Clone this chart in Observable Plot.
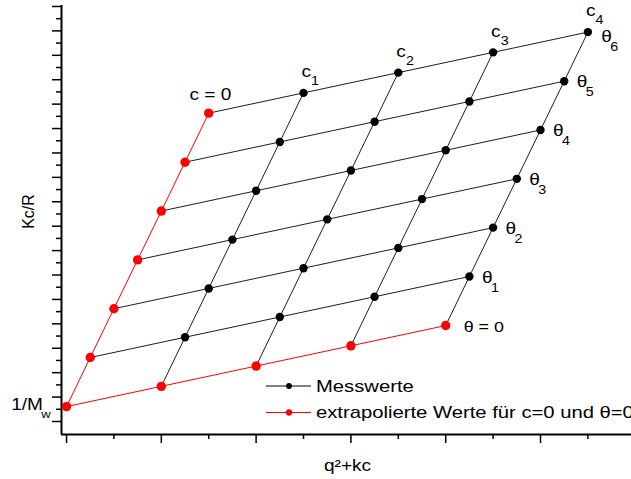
<!DOCTYPE html>
<html><head><meta charset="utf-8">
<script src="https://cdn.jsdelivr.net/npm/d3@7"></script>
<script src="https://cdn.jsdelivr.net/npm/@observablehq/plot@0.6"></script>
<style>html,body{margin:0;padding:0;background:#fff;} svg{display:block}</style>
</head><body><div id="chart"></div>
<script>
// ---- data ----
const cNames = ["0", "1", "2", "3", "4"];
const thetaNames = ["0", "1", "2", "3", "4", "5", "6"];
// x = q^2 + k c, one row per angle (theta 0..6), columns c = 0..4
const xValues = [
  [0.00, 1.00, 2.00, 3.00, 4.00],
  [0.25, 1.25, 2.25, 3.25, 4.25],
  [0.50, 1.50, 2.50, 3.50, 4.50],
  [0.75, 1.75, 2.75, 3.75, 4.75],
  [1.00, 2.00, 3.00, 4.00, 5.00],
  [1.25, 2.25, 3.25, 4.25, 5.25],
  [1.50, 2.50, 3.50, 4.50, 5.50]
];
// Kc/R
const yValues = [
  [0.61, 1.44, 2.27, 3.10, 3.93],
  [2.62, 3.45, 4.28, 5.11, 5.94],
  [4.62, 5.45, 6.28, 7.11, 7.94],
  [6.62, 7.45, 8.28, 9.11, 9.94],
  [8.62, 9.45, 10.28, 11.11, 11.94],
  [10.62, 11.45, 12.28, 13.11, 13.94],
  [12.63, 13.46, 14.29, 15.12, 15.95]
];
const xMajorTicks = [0, 1, 2, 3, 4, 5];
const xMinorTicks = [0.5, 1.5, 2.5, 3.5, 4.5, 5.5];
const yMajorTicks = [0, 1, 2, 3, 4, 5, 6, 7, 8, 9, 10, 11, 12, 13, 14, 15, 16, 17];
const yMinorTicks = [0.5, 1.5, 2.5, 3.5, 4.5, 5.5, 6.5, 7.5, 8.5, 9.5, 10.5, 11.5, 12.5, 13.5, 14.5, 15.5, 16.5];
const legendLabels = ["Messwerte", "extrapolierte Werte für c=0 und θ=0"];
const xAxisLabel = "q²+kc";
const yAxisLabel = "Kc/R";
const interceptLabel = "1/M";
const interceptSub = "w";
const cZeroLabel = "c = 0";
const thetaZeroLabel = "θ = 0";

// ---- layout ----
const W = 631, H = 479, ML = 61, MR = 0, MT = 5, MB = 45;
const X0 = -0.053, X1 = 5.96, Y0 = -0.533, Y1 = 17.04;
const invX = px => X0 + (px - ML) / (W - ML - MR) * (X1 - X0);
const invY = py => Y0 + (H - MB - py) / (H - MB - MT) * (Y1 - Y0);
const STRETCH = 1.19;
const FONT = "'Liberation Sans', Arial, Helvetica, sans-serif";
const RED = "#ff0000";
const LINE = "#1e1e1e";

const points = [];
thetaNames.forEach((t, i) => cNames.forEach((c, j) =>
  points.push({i, j, theta: t, c, x: xValues[i][j], y: yValues[i][j], extrap: i === 0 || j === 0})));

const topRowC = points.filter(p => p.i === 6 && p.j > 0);
const rightColTheta = points.filter(p => p.j === 4 && p.i > 0 && p.i < 6);
const theta6 = points.filter(p => p.j === 4 && p.i === 6);

const legendRows = [
  {label: legendLabels[0], color: "#000", py: 385.5, r: 4},
  {label: legendLabels[1], color: RED, py: 412, r: 4.5}
];

const chart = Plot.plot({
  width: W, height: H,
  marginLeft: ML, marginRight: MR, marginTop: MT, marginBottom: MB,
  style: {fontFamily: FONT, background: "white", color: "black"},
  x: {domain: [X0, X1]},
  y: {domain: [Y0, Y1]},
  marks: [
    // axes
    Plot.axisX({ticks: xMajorTicks, tickSize: 9, tickFormat: () => "", label: null, strokeWidth: 1.5}),
    Plot.axisX({ticks: xMinorTicks, tickSize: 5, tickFormat: () => "", label: null, strokeWidth: 1.5}),
    Plot.axisY({ticks: yMajorTicks, tickSize: 9, tickFormat: () => "", label: null, strokeWidth: 1.5}),
    Plot.axisY({ticks: yMinorTicks, tickSize: 5, tickFormat: () => "", label: null, strokeWidth: 1.5}),
    Plot.ruleX([X0], {stroke: "black", strokeWidth: 2}),
    Plot.ruleY([Y0], {stroke: "black", strokeWidth: 2}),
    // grid lines of the Zimm plot
    Plot.line(points.filter(p => p.i > 0), {x: "x", y: "y", z: "i", stroke: LINE, strokeWidth: 1}),
    Plot.line(points.filter(p => p.j > 0), {x: "x", y: "y", z: "j", stroke: LINE, strokeWidth: 1}),
    Plot.line(points.filter(p => p.i === 0), {x: "x", y: "y", stroke: RED, strokeWidth: 1}),
    Plot.line(points.filter(p => p.j === 0), {x: "x", y: "y", stroke: RED, strokeWidth: 1}),
    Plot.dot(points.filter(p => !p.extrap), {x: "x", y: "y", r: 4.2, fill: "black"}),
    Plot.dot(points.filter(p => p.extrap), {x: "x", y: "y", r: 4.7, fill: RED}),
    // labels
    Plot.text(topRowC, {x: "x", y: "y", text: () => "c", fontSize: 16, textAnchor: "start", lineAnchor: "middle", dx: -2, dy: -20.9}),
    Plot.text(topRowC, {x: "x", y: "y", text: "c", fontSize: 12, textAnchor: "start", lineAnchor: "middle", dx: 7.6, dy: -11.6}),
    Plot.text(points.filter(p => p.i === 6 && p.j === 0), {x: "x", y: "y", text: () => cZeroLabel, fontSize: 16, textAnchor: "start", lineAnchor: "middle", dx: -19.3, dy: -17.8}),
    Plot.text(rightColTheta, {x: "x", y: "y", text: () => "θ", fontSize: 16, textAnchor: "start", lineAnchor: "middle", dx: 12.5, dy: 0.9}),
    Plot.text(rightColTheta, {x: "x", y: "y", text: "theta", fontSize: 12, textAnchor: "start", lineAnchor: "middle", dx: 21.5, dy: 11.2}),
    Plot.text(theta6, {x: "x", y: "y", text: () => "θ", fontSize: 16, textAnchor: "start", lineAnchor: "middle", dx: 13.4, dy: 4.9}),
    Plot.text(theta6, {x: "x", y: "y", text: "theta", fontSize: 12, textAnchor: "start", lineAnchor: "middle", dx: 22.4, dy: 15.2}),
    Plot.text(points.filter(p => p.i === 0 && p.j === 4), {x: "x", y: "y", text: () => thetaZeroLabel, fontSize: 15, textAnchor: "start", lineAnchor: "middle", dx: 18, dy: 1.8}),
    Plot.text(points.filter(p => p.i === 0 && p.j === 0), {x: "x", y: "y", text: () => interceptLabel, fontSize: 16, textAnchor: "start", lineAnchor: "middle", dx: -55.3, dy: -2.2}),
    Plot.text(points.filter(p => p.i === 0 && p.j === 0), {x: "x", y: "y", text: () => interceptSub, fontSize: 11, textAnchor: "start", lineAnchor: "middle", dx: -25.3, dy: 8.1}),
    // axis titles
    Plot.text([xAxisLabel], {frameAnchor: "bottom", text: d => d, fontSize: 16, lineAnchor: "middle", textAnchor: "middle", dx: 1, dy: 31}),
    Plot.text([yAxisLabel], {frameAnchor: "left", text: d => d, fontSize: 16, rotate: -90, lineAnchor: "middle", textAnchor: "middle", dx: -33, dy: -8.5}),
    // legend
    Plot.link(legendRows, {x1: () => invX(265.5), x2: () => invX(310.5), y1: d => invY(d.py), y2: d => invY(d.py), stroke: "color", strokeWidth: 1}),
    Plot.dot(legendRows, {x: () => invX(288.5), y: d => invY(d.py), r: "r", fill: "color"}),
    Plot.text(legendRows, {x: () => invX(315.5), y: d => invY(d.py + 0.5), text: "label", fontSize: 17, textAnchor: "start", lineAnchor: "middle"})
  ]
});
// colors given as literal values in the legend table
document.querySelector("#chart").append(chart);
chart.querySelectorAll("text").forEach(t => {
  if (t.textContent === yAxisLabel) return;
  const len = t.getComputedTextLength();
  if (len > 0) {
    t.setAttribute("textLength", (len * STRETCH).toFixed(2));
    t.setAttribute("lengthAdjust", "spacingAndGlyphs");
  }
});
</script>
</body></html>
